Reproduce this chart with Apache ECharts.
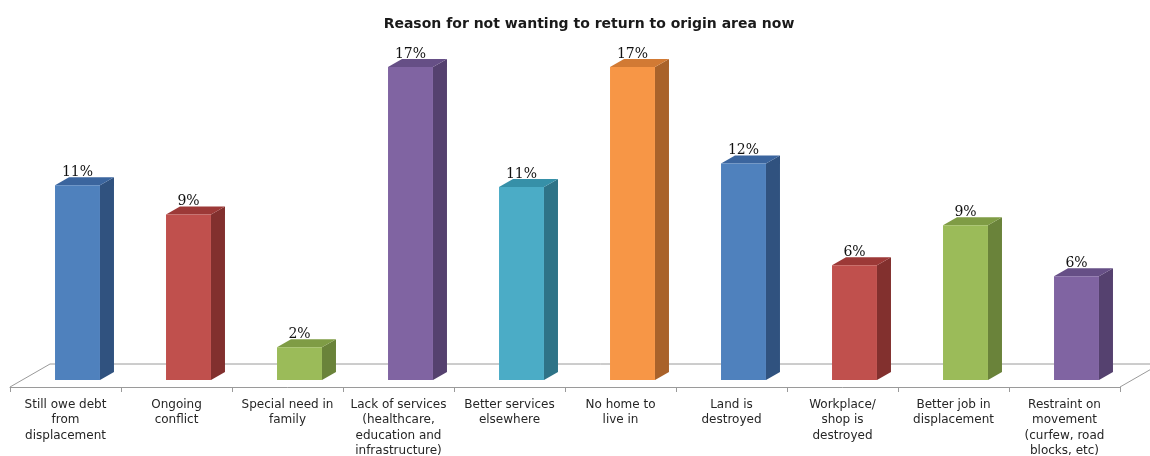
<!DOCTYPE html>
<html>
<head>
<meta charset="utf-8">
<script src="https://cdn.jsdelivr.net/npm/echarts@6/dist/echarts.min.js"></script>
<style>html,body{margin:0;padding:0;background:#fff;}#c{width:1150px;height:456px;}</style>
</head>
<body>
<div id="c"></div>
<script>
const titleText = 'Reason for not wanting to return to origin area now';
const categories = [
  'Still owe debt\nfrom\ndisplacement',
  'Ongoing\nconflict',
  'Special need in\nfamily',
  'Lack of services\n(healthcare,\neducation and\ninfrastructure)',
  'Better services\nelsewhere',
  'No home to\nlive in',
  'Land is\ndestroyed',
  'Workplace/\nshop is\ndestroyed',
  'Better job in\ndisplacement',
  'Restraint on\nmovement\n(curfew, road\nblocks, etc)'
];
const values = [10.7, 9.1, 1.8, 17.2, 10.6, 17.2, 11.9, 6.3, 8.5, 5.7];
const valueLabels = ['11%', '9%', '2%', '17%', '11%', '17%', '12%', '6%', '9%', '6%'];

// palette: [front, side, top]
const palette = {
  blue:   ['#4F81BD', '#30527F', '#3B659E'],
  red:    ['#C0504D', '#82302E', '#9C3937'],
  green:  ['#9BBB59', '#6A833A', '#7F9C45'],
  purple: ['#8064A2', '#55416F', '#664F86'],
  teal:   ['#4BACC6', '#2E7387', '#3690A8'],
  orange: ['#F79646', '#A9622A', '#D27A34']
};
const barColors = ['blue','red','green','purple','teal','orange','blue','red','green','purple'];

const DX = 14, DY = 8;       // bar depth
const FDX = 40, FDY = 23;    // floor depth

const chart = echarts.init(document.getElementById('c'), null, {renderer: 'canvas'});

const option = {
  animation: false,
  backgroundColor: '#ffffff',
  title: {
    text: titleText,
    left: 584, top: 12, textAlign: 'center',
    textStyle: {fontFamily: 'DejaVu Sans', fontSize: 14, fontWeight: 'bold', color: '#1a1a1a'}
  },
  grid: [
    {left: 22, right: 18, top: 16, bottom: 76, outerBoundsMode: 'none', containLabel: false},
    {left: 10, right: 30, top: 300, bottom: 69, outerBoundsMode: 'none', containLabel: false}
  ],
  xAxis: [
    {type: 'category', gridIndex: 0, data: categories, show: false},
    {type: 'category', gridIndex: 1, data: categories,
     axisLine: {show: true, lineStyle: {color: '#9a9a9a', width: 1}},
     axisTick: {show: true, length: 5, lineStyle: {color: '#9a9a9a'}},
     axisLabel: {interval: 0, margin: 10, fontFamily: 'DejaVu Sans', fontSize: 12,
                 lineHeight: 15.5, color: '#262626', align: 'center', hideOverlap: false}}
  ],
  yAxis: [
    {type: 'value', gridIndex: 0, min: 0, max: 20, show: false},
    {type: 'value', gridIndex: 1, min: 0, max: 1, show: false}
  ],
  series: [
    {
      type: 'custom', xAxisIndex: 1, yAxisIndex: 1,
      data: [[0, 0]],
      z: 1,
      renderItem: function (params, api) {
        const band = api.size([1, 0])[0];
        const p0 = api.coord([0, 0]);
        const pN = api.coord([categories.length - 1, 0]);
        const xL = p0[0] - band / 2, xR = pN[0] + band / 2, y = p0[1];
        return {
          type: 'polyline',
          shape: {points: [[xL, y], [xL + FDX, y - FDY], [xR + FDX, y - FDY], [xR, y]]},
          style: {stroke: '#9a9a9a', fill: null, lineWidth: 1}
        };
      }
    },
    {
      type: 'custom', xAxisIndex: 0, yAxisIndex: 0,
      data: values.map((v, i) => [i, v]),
      z: 2,
      renderItem: function (params, api) {
        const i = api.value(0);
        const top = api.coord([i, api.value(1)]);
        const base = api.coord([i, 0]);
        const w = api.size([1, 0])[0] * 0.405;
        const cx = top[0];
        const xl = cx - w / 2, xr = cx + w / 2;
        const yt = top[1], yb = base[1];
        const c = palette[barColors[i]];
        return {
          type: 'group',
          children: [
            {type: 'polygon', shape: {points: [[xr, yt], [xr + DX, yt - DY], [xr + DX, yb - DY], [xr, yb]]},
             style: {fill: c[1]}},
            {type: 'polygon', shape: {points: [[xl, yt], [xl + DX, yt - DY], [xr + DX, yt - DY], [xr, yt]]},
             style: {fill: c[2]}},
            {type: 'rect', shape: {x: xl, y: yt, width: w, height: yb - yt}, style: {fill: c[0]}},
            {type: 'text', x: cx, y: yt - DY + 2,
             style: {text: valueLabels[i], align: 'center', verticalAlign: 'bottom',
                     fontFamily: 'DejaVu Serif', fontSize: 14, fill: '#111'}}
          ]
        };
      }
    }
  ]
};
chart.setOption(option);
</script>
</body>
</html>
